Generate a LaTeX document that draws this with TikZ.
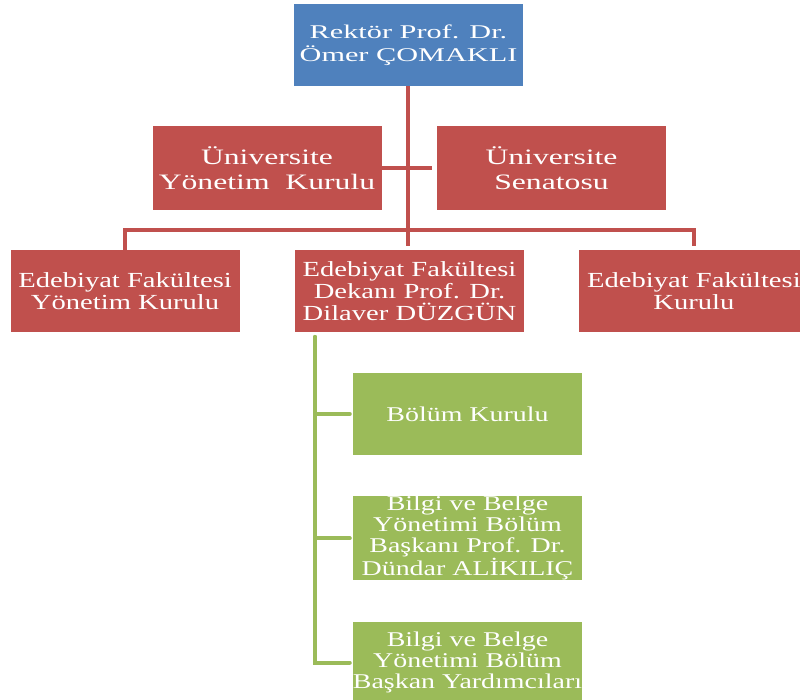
\documentclass[tikz,border=0pt]{standalone}
\usepackage{fontspec}
\setmainfont{Liberation Serif}
\newfontfamily\rektorfont[FakeStretch=1.56]{Liberation Serif}
\newfontfamily\unifont[FakeStretch=1.44]{Liberation Serif}
\newfontfamily\greenfont[FakeStretch=1.33]{Liberation Serif}
\newfontfamily\facfont[FakeStretch=1.33]{Liberation Serif}
\usetikzlibrary{positioning}

\definecolor{orgblue}{HTML}{4F81BD}
\definecolor{orgred}{HTML}{C0504D}
\definecolor{orggreen}{HTML}{9BBB59}

\tikzset{
  box/.style={rectangle, text=white, align=center, inner sep=0pt,
              minimum width=229pt, minimum height=82pt},
  bluebox/.style={box, fill=orgblue, font=\fontsize{19.4}{23}\selectfont\rektorfont},
  unibox/.style={box, fill=orgred, minimum height=84pt, font=\fontsize{22}{25}\selectfont\unifont},
  redbox/.style={box, fill=orgred, font=\fontsize{21.5}{22}\selectfont\facfont},
  greenbox/.style={box, fill=orggreen, font=\fontsize{21}{21}\selectfont\greenfont},
  redline/.style={draw=orgred, line width=4pt},
  greenline/.style={draw=orggreen, line width=4pt, line cap=round}
}

\begin{document}
\begin{tikzpicture}[x=1pt, y=-1pt, shorten >=4pt]
    \clip (0,0) rectangle (800,700);

    % Nodes {rektor, kurullar, fakulte, bolum}
    \node [bluebox]  (rektor) at (408.5,45)  {Rektör Prof. Dr.\\Ömer ÇOMAKLI};
    \node [unibox]   (uyk)    at (267,168)   {Üniversite\\Yönetim~ Kurulu};
    \node [unibox]   (senato) at (551.5,168) {Üniversite\\Senatosu};

    \node [redbox]   (dekan)  at (409.5,291) {Edebiyat Fakültesi\\Dekanı Prof. Dr.\\Dilaver DÜZGÜN};
    \node [redbox]   (efyk)   [left=55pt of dekan]  {Edebiyat Fakültesi\\Yönetim Kurulu};
    \node [redbox]   (efk)    [right=55pt of dekan] {Edebiyat Fakültesi\\Kurulu};

    \node [greenbox] (bolum)  at (467.5,414) {Bölüm Kurulu};
    \node [greenbox] (baskan) [below=41pt of bolum]  {Bilgi ve Belge\\Yönetimi Bölüm\\Başkanı Prof. Dr.\\Dündar ALİKILIÇ};
    \node [greenbox] (yard)   [below=41pt of baskan] {Bilgi ve Belge\\Yönetimi Bölüm\\Başkan Yardımcıları};

    \coordinate (hub)  at (408,230);
    \coordinate (gtop) at (315,337);

    % Paths
    \path [redline]   ([xshift=-1pt]rektor.south) edge ([xshift=-2pt]dekan.north);
    \path [redline]   (uyk.east) edge [shorten >=5pt] (senato.west);
    \draw [redline]   (efyk.north) |- (hub) -| (efk.north);
    \draw [greenline, shorten >=3pt] (gtop) |- (bolum.west);
    \draw [greenline, shorten >=3pt] (gtop) |- (baskan.west);
    \draw [greenline, shorten >=3pt] (gtop) |- (yard.west);

\end{tikzpicture}
\end{document}
